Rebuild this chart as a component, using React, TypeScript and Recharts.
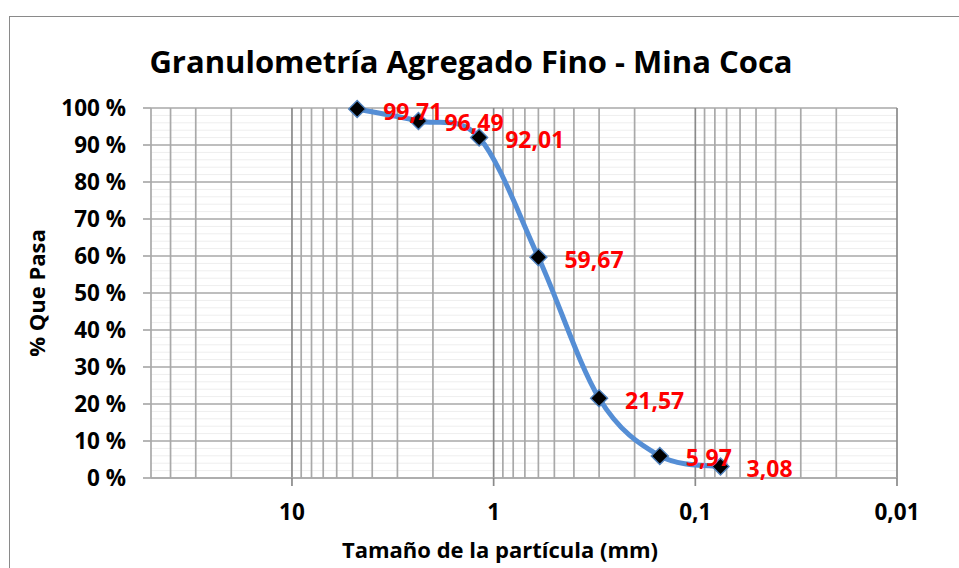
import React from 'react';
import { LineChart, Line, XAxis, YAxis, ReferenceLine, LabelList } from 'recharts';

// ---- data ----
const sieveSizesMm = [4.75, 2.36, 1.18, 0.6, 0.3, 0.15, 0.075];
const percentPassing = [99.71, 96.49, 92.01, 59.67, 21.57, 5.97, 3.08];
const xMajorTicks = [10, 1, 0.1, 0.01];
const yMajorTicks = [0, 10, 20, 30, 40, 50, 60, 70, 80, 90, 100];
const xDomain: [number, number] = [0.01, 50];

const titleText = 'Granulometría Agregado Fino - Mina Coca';
const xTitleText = 'Tamaño de la partícula (mm)';
const yTitleText = '% Que Pasa';

const data = sieveSizesMm.map((s, i) => ({ size: s, pass: percentPassing[i] }));

// minor gridline values (axis structure)
const xMinor: number[] = [];
xMajorTicks.forEach((d) => {
  for (let k = 2; k <= 9; k++) {
    const v = +(d * k).toPrecision(6);
    if (v <= xDomain[1]) xMinor.push(v);
  }
});
const yMinor: number[] = [];
for (let v = 2; v < 100; v += 2) if (v % 10 !== 0) yMinor.push(v);

const FONT = "'Open Sans', 'Noto Sans', sans-serif";
const fmtComma = (v: number) => String(v).replace('.', ',');

// Excel-like smoothing (Catmull-Rom, uniform)
function excelSmooth(context: any) {
  let pts: number[][] = [];
  return {
    areaStart() {},
    areaEnd() {},
    lineStart() {
      pts = [];
    },
    point(x: number, y: number) {
      pts.push([+x, +y]);
    },
    lineEnd() {
      const n = pts.length;
      if (!n) return;
      context.moveTo(pts[0][0], pts[0][1]);
      for (let i = 0; i < n - 1; i++) {
        const p0 = pts[i - 1] || pts[i];
        const p1 = pts[i];
        const p2 = pts[i + 1];
        const p3 = pts[i + 2] || p2;
        context.bezierCurveTo(
          p1[0] + (p2[0] - p0[0]) / 6,
          p1[1] + (p2[1] - p0[1]) / 6,
          p2[0] - (p3[0] - p1[0]) / 6,
          p2[1] - (p3[1] - p1[1]) / 6,
          p2[0],
          p2[1]
        );
      }
    },
  };
}

const Diamond = (props: any) => {
  const { cx, cy } = props;
  if (cx == null || cy == null) return <g />;
  const r = 8.5;
  return (
    <polygon
      points={`${cx},${cy - r} ${cx + r},${cy} ${cx},${cy + r} ${cx - r},${cy}`}
      fill="#000000"
      stroke="#4F81BD"
      strokeWidth={1.4}
    />
  );
};

const DataLabel = (props: any) => {
  const { x, y, value } = props;
  return (
    <text x={x + 26} y={y + 10.5} fill="#FF0000" fontFamily={FONT} fontWeight={700} fontSize={23}>
      {fmtComma(value)}
    </text>
  );
};

const YTick = (props: any) => {
  const { x, y, payload } = props;
  return (
    <text x={x} y={y + 8} textAnchor="end" fill="#000" fontFamily={FONT} fontWeight={700} fontSize={22.5}>
      {`${payload.value} %`}
    </text>
  );
};

const XTick = (props: any) => {
  const { x, y, payload } = props;
  return (
    <text x={x} y={y + 15.5} textAnchor="middle" fill="#000" fontFamily={FONT} fontWeight={700} fontSize={22.5}>
      {fmtComma(payload.value)}
    </text>
  );
};

const GRID = '#a9a9a9';
const GRID_MAJOR = '#8a8a8a';
const GRID_MINOR = '#eeeeee';

export default function App() {
  return (
    <div
      style={{
        position: 'absolute',
        left: 0,
        top: 0,
        width: 959,
        height: 568,
        overflow: 'hidden',
        background: '#ffffff',
      }}
    >
      <div
        style={{
          position: 'absolute',
          left: 9,
          top: 16,
          width: 1000,
          height: 700,
          border: '1.5px solid #8a8a8a',
          boxSizing: 'border-box',
        }}
      />
      <div style={{ position: 'absolute', left: 0, top: 0 }}>
        <LineChart width={959} height={568} data={data} margin={{ top: 108, right: 62, bottom: 0, left: 0 }}>
          {yMinor.map((v) => (
            <ReferenceLine key={'ym' + v} y={v} stroke={GRID_MINOR} strokeWidth={1} />
          ))}
          {xMinor.map((v) => (
            <ReferenceLine key={'xm' + v} x={v} stroke={GRID} strokeWidth={1.7} />
          ))}
          {yMajorTicks.map((v) => (
            <ReferenceLine key={'yM' + v} y={v} stroke={GRID} strokeWidth={1.7} />
          ))}
          {xMajorTicks.map((v) => (
            <ReferenceLine key={'xM' + v} x={v} stroke={GRID_MAJOR} strokeWidth={1.7} />
          ))}
          <XAxis
            dataKey="size"
            type="number"
            scale="log"
            domain={xDomain}
            allowDataOverflow
            reversed
            ticks={xMajorTicks}
            interval={0}
            height={90}
            axisLine={{ stroke: GRID, strokeWidth: 1.7 }}
            tickLine={{ stroke: GRID_MAJOR, strokeWidth: 1.7 }}
            tickSize={8}
            tickMargin={18}
            tick={<XTick />}
          />
          <YAxis
            type="number"
            domain={[0, 100]}
            ticks={yMajorTicks}
            interval={0}
            width={151}
            axisLine={false}
            tickLine={{ stroke: GRID, strokeWidth: 1.7 }}
            tickSize={8}
            tickMargin={17}
            tick={<YTick />}
          />
          <Line
            dataKey="pass"
            type={excelSmooth as any}
            stroke="#558ED5"
            strokeWidth={5}
            dot={<Diamond />}
            activeDot={false}
            isAnimationActive={false}
          >
            <LabelList dataKey="pass" content={<DataLabel />} />
          </Line>
        </LineChart>
      </div>
      <svg width={959} height={568} style={{ position: 'absolute', left: 0, top: 0, pointerEvents: 'none' }}>
        <text x={471} y={73} textAnchor="middle" fontFamily={FONT} fontWeight={700} fontSize={31} fill="#000">
          {titleText}
        </text>
        <text x={500} y={558} textAnchor="middle" fontFamily={FONT} fontWeight={700} fontSize={22} fill="#000">
          {xTitleText}
        </text>
        <text
          x={45}
          y={293}
          textAnchor="middle"
          fontFamily={FONT}
          fontWeight={700}
          fontSize={22}
          fill="#000"
          transform="rotate(-90 45 293)"
        >
          {yTitleText}
        </text>
      </svg>
    </div>
  );
}
